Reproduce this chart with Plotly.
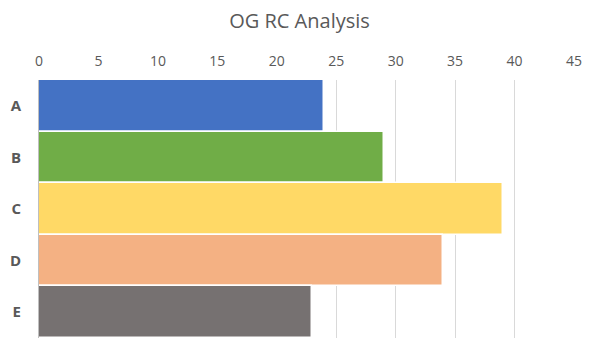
import plotly.graph_objects as go

categories = ["A", "B", "C", "D", "E"]
values = [24, 29, 39, 34, 23]
colors = ["#4472C4", "#70AD47", "#FFD966", "#F4B183", "#767171"]
x_ticks = [0, 5, 10, 15, 20, 25, 30, 35, 40, 45]

fig = go.Figure(go.Bar(
    x=values, y=categories, orientation="h",
    marker=dict(color=colors, line=dict(color="white", width=1.5)),
    width=1.0,
))

fig.update_layout(
    width=599, height=356,
    margin=dict(l=39, r=25, t=80, b=18),
    paper_bgcolor="white", plot_bgcolor="white",
    title=dict(text="OG RC Analysis", x=0.5, xanchor="center", y=0.94, yanchor="middle",
               font=dict(family="Open Sans", size=20, color="#595959")),
    bargap=0,
    showlegend=False,
    font=dict(family="Open Sans", color="#595959"),
)
fig.update_xaxes(
    side="top", range=[0, 45], tickvals=x_ticks, ticktext=[str(t) for t in x_ticks],
    showgrid=True, gridcolor="#D9D9D9", gridwidth=1, zeroline=False,
    showline=False, ticks="", ticklabelstandoff=10, automargin=False,
    tickfont=dict(family="Open Sans", size=14, color="#595959"),
)
fig.update_yaxes(
    autorange="reversed", showline=True, linecolor="#BFBFBF", linewidth=1,
    showgrid=False, ticks="", ticklabelstandoff=14, automargin=False,
    tickfont=dict(family="Open Sans", size=15, color="#595959", weight="bold"),
)

fig.write_html("out.html", config={"displayModeBar": False},
               post_script="document.body.style.margin='0';")
